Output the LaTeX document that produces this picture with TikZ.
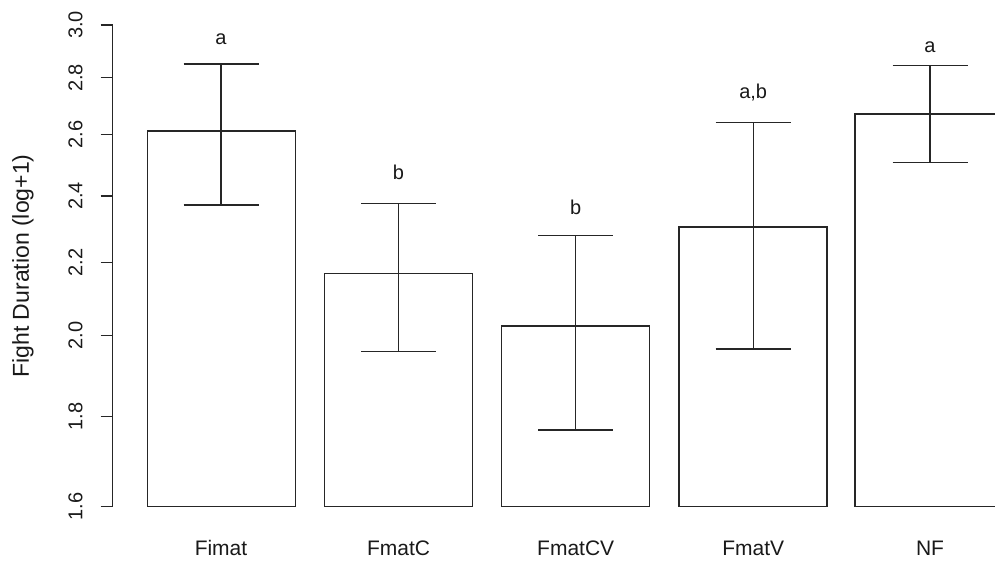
\documentclass[tikz,border=0pt]{standalone}
\usepackage{fontspec}
\setmainfont{Liberation Sans}
\begin{document}
\begin{tikzpicture}[x=1pt,y=-1pt,
  ln/.style={draw=black!85, line width=1.4pt},
  barbox/.style={ln, fill=white},
  lbl/.style={font=\fontsize{20}{24}\selectfont, inner sep=0pt, anchor=base, text=black!90},
  grp/.style={font=\fontsize{21}{25}\selectfont, inner sep=0pt, anchor=base, text=black!90},
  ticklbl/.style={font=\fontsize{20}{24}\selectfont, inner sep=0pt, anchor=center, rotate=90, text=black!90},
  ttl/.style={font=\fontsize{23}{27}\selectfont, inner sep=0pt, anchor=center, rotate=90, text=black!90}]
\useasboundingbox (0,0) rectangle (995,561);
% y axis
\coordinate (ax-top) at (112.7,25);
\coordinate (ax-bot) at (112.7,506.5);
\draw[ln] (ax-top) -- (ax-bot);
\foreach \y/\t in {506.5/1.6, 416.3/1.8, 335.6/2.0, 262.6/2.2, 195.9/2.4, 134.6/2.6, 77.8/2.8, 25.0/3.0}{
  \draw[ln] (100.7,\y) -- (112.7,\y);
  \node[ticklbl] (tick-\t) at (75.5,\y) {\t};
}
\node[ttl] (ytitle) at (23,266) {Fight Duration (log+1)};
% bars
\draw[barbox] (147.5,131) rectangle (295.5,506.5);
\draw[barbox] (324.5,273.5) rectangle (472.5,506.5);
\draw[barbox] (501.5,326) rectangle (649.5,506.5);
\draw[barbox] (679,227) rectangle (827,506.5);
\draw[barbox] (995,114) -- (855,114) -- (855,506.5) -- (995,506.5);
% error bars
\foreach \n/\cx/\hi/\lo in {fimat/221/64/205, fmatc/398.5/203.3/351.7, fmatcv/575.7/235.3/430, fmatv/753.2/122.7/349, nf/930/65.3/162.7}{
  \coordinate (\n-hi) at (\cx,\hi);
  \coordinate (\n-lo) at (\cx,\lo);
  \draw[ln] (\n-hi) -- (\n-lo);
  \draw[ln] ([xshift=-37.5pt]\n-hi) -- ([xshift=37.5pt]\n-hi);
  \draw[ln] ([xshift=-37.5pt]\n-lo) -- ([xshift=37.5pt]\n-lo);
}
% significance letters
\node[lbl] (sig-fimat) at (221,45) {a};
\node[lbl] (sig-fmatc) at (398.5,179.3) {b};
\node[lbl] (sig-fmatcv) at (575.7,215) {b};
\node[lbl] (sig-fmatv) at (753.2,98.3) {a,b};
\node[lbl] (sig-nf) at (930,52.3) {a};
% group names
\node[grp] (x-fimat) at (221,555.5) {Fimat};
\node[grp] (x-fmatc) at (398.5,555.5) {FmatC};
\node[grp] (x-fmatcv) at (575.7,555.5) {FmatCV};
\node[grp] (x-fmatv) at (753.2,555.5) {FmatV};
\node[grp] (x-nf) at (930,555.5) {NF};
\end{tikzpicture}
\end{document}
